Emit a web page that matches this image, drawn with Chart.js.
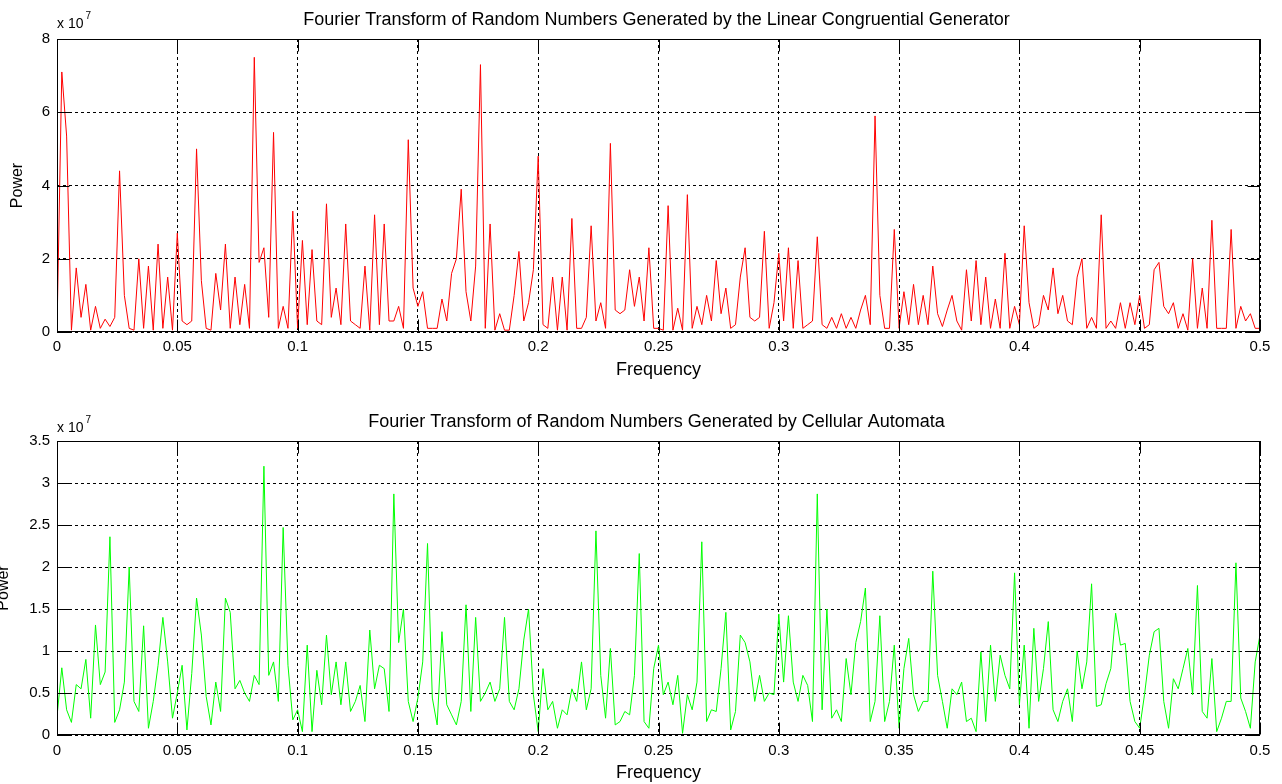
<!DOCTYPE html>
<html lang="en">
<head>
<meta charset="UTF-8">
<title>Fourier Transform of Random Numbers</title>
<script src="https://cdn.jsdelivr.net/npm/chart.js"></script>
<style>
    body {
        margin: 0;
        background: #fff;
    }
    .plot {
        position: absolute;
        left: 0;
        width: 1282px;
        height: 392px;
    }
    #topPlot { top: 0; }
    #bottomPlot { top: 392px; }
</style>
</head>
<body>

<div class="plot" id="topPlot"><canvas id="lcgChart"></canvas></div>
<div class="plot" id="bottomPlot"><canvas id="caChart"></canvas></div>

<script>
// frequency bins go from 0 to 0.5 in steps of 0.002, power in units of 1e7
const freqStep = 0.002;

const lcgPower = [
    0.05, 7.1, 5.35, 0.05, 1.75, 0.4, 1.3, 0.05, 0.7, 0.1,
    0.35, 0.15, 0.4, 4.4, 1.0, 0.1, 0.05, 2.0, 0.1, 1.8,
    0.05, 2.4, 0.1, 1.5, 0.05, 2.7, 0.3, 0.2, 0.3, 5.0,
    1.4, 0.1, 0.05, 1.6, 0.6, 2.4, 0.1, 1.5, 0.2, 1.3,
    0.1, 7.5, 1.9, 2.3, 0.4, 5.45, 0.1, 0.7, 0.1, 3.3,
    0.1, 2.5, 0.2, 2.25, 0.3, 0.2, 3.5, 0.4, 1.2, 0.2,
    2.95, 0.3, 0.2, 0.1, 1.8, 0.05, 3.2, 0.2, 2.95, 0.3,
    0.3, 0.7, 0.1, 5.25, 1.2, 0.7, 1.1, 0.1, 0.1, 0.1,
    0.9, 0.3, 1.6, 2.0, 3.9, 1.1, 0.3, 1.8, 7.3, 0.1,
    2.95, 0.05, 0.5, 0.05, 0.05, 1.0, 2.2, 0.3, 0.8, 1.7,
    4.8, 0.2, 0.1, 1.5, 0.05, 1.5, 0.05, 3.1, 0.1, 0.1,
    0.4, 2.9, 0.3, 0.8, 0.1, 5.15, 0.6, 0.5, 0.6, 1.7,
    0.7, 1.5, 0.3, 2.3, 0.1, 0.1, 0.05, 3.45, 0.05, 0.65,
    0.05, 3.75, 0.1, 0.7, 0.2, 1.0, 0.3, 1.95, 0.5, 1.2,
    0.1, 0.2, 1.5, 2.3, 0.4, 0.3, 0.4, 2.75, 0.1, 0.8,
    2.15, 0.3, 2.3, 0.1, 1.95, 0.1, 0.2, 0.3, 2.6, 0.2,
    0.1, 0.4, 0.1, 0.5, 0.1, 0.4, 0.1, 0.6, 1.0, 0.2,
    5.9, 1.0, 0.1, 0.1, 2.8, 0.1, 1.1, 0.2, 1.3, 0.2,
    1.0, 0.2, 1.8, 0.5, 0.15, 0.6, 1.0, 0.3, 0.05, 1.7,
    0.3, 1.95, 0.2, 1.5, 0.1, 0.9, 0.1, 2.15, 0.1, 0.7,
    0.2, 2.9, 0.8, 0.1, 0.2, 1.0, 0.6, 1.75, 0.5, 1.0,
    0.3, 0.2, 1.5, 2.0, 0.1, 0.4, 0.1, 3.2, 0.1, 0.3,
    0.1, 0.8, 0.1, 0.8, 0.2, 1.0, 0.1, 0.2, 1.7, 1.9,
    0.7, 0.5, 0.8, 0.1, 0.5, 0.05, 2.0, 0.1, 1.2, 0.1,
    3.05, 0.1, 0.1, 0.1, 2.8, 0.1, 0.7, 0.3, 0.5, 0.1,
    0.1
];

const caPower = [
    0.22, 0.8, 0.3, 0.15, 0.6, 0.55, 0.9, 0.2, 1.31, 0.6,
    0.75, 2.36, 0.15, 0.3, 0.63, 2.0, 0.4, 0.28, 1.3, 0.08,
    0.4, 0.83, 1.4, 0.87, 0.2, 0.5, 0.83, 0.06, 0.73, 1.63,
    1.19, 0.46, 0.12, 0.63, 0.28, 1.63, 1.46, 0.55, 0.65, 0.5,
    0.4, 0.71, 0.6, 3.2, 0.71, 0.87, 0.4, 2.47, 0.83, 0.18,
    0.3, 0.04, 1.07, 0.04, 0.77, 0.36, 1.19, 0.48, 0.87, 0.36,
    0.87, 0.28, 0.4, 0.59, 0.16, 1.25, 0.55, 0.83, 0.79, 0.28,
    2.87, 1.1, 1.5, 0.4, 0.16, 0.44, 0.87, 2.28, 0.44, 0.12,
    1.23, 0.36, 0.24, 0.12, 0.4, 1.55, 0.28, 1.4, 0.4, 0.5,
    0.63, 0.4, 0.55, 1.4, 0.4, 0.3, 0.55, 1.13, 1.5, 0.48,
    0.04, 0.79, 0.3, 0.4, 0.08, 0.3, 0.24, 0.55, 0.4, 0.87,
    0.3, 0.55, 2.43, 0.71, 0.2, 1.03, 0.12, 0.16, 0.28, 0.24,
    0.71, 2.16, 0.16, 0.08, 0.79, 1.07, 0.48, 0.63, 0.36, 0.71,
    0.02, 0.48, 0.3, 0.63, 2.3, 0.16, 0.3, 0.28, 0.79, 1.46,
    0.06, 0.28, 1.19, 1.1, 0.87, 0.4, 0.71, 0.4, 0.5, 0.48,
    1.44, 0.63, 1.42, 0.63, 0.4, 0.71, 0.59, 0.16, 2.87, 0.3,
    1.5, 0.2, 0.3, 0.16, 0.91, 0.48, 1.1, 1.35, 1.75, 0.16,
    0.4, 1.42, 0.16, 0.4, 1.07, 0.08, 0.79, 1.15, 0.48, 0.28,
    0.4, 0.4, 1.95, 0.71, 0.4, 0.08, 0.55, 0.48, 0.63, 0.16,
    0.2, 0.04, 0.99, 0.16, 1.07, 0.4, 0.95, 0.71, 0.55, 1.93,
    0.36, 1.07, 0.08, 1.27, 0.4, 0.79, 1.35, 0.3, 0.16, 0.4,
    0.55, 0.16, 1.0, 0.55, 0.87, 1.8, 0.34, 0.36, 0.61, 0.79,
    1.45, 1.07, 1.09, 0.4, 0.16, 0.08, 0.48, 0.95, 1.23, 1.27,
    0.4, 0.08, 0.67, 0.55, 0.79, 1.03, 0.48, 1.78, 0.28, 0.2,
    0.91, 0.04, 0.2, 0.4, 0.4, 2.05, 0.44, 0.28, 0.08, 0.87,
    1.19
];

const freqTickLabels = ['0', '0.05', '0.1', '0.15', '0.2', '0.25', '0.3', '0.35', '0.4', '0.45', '0.5'];
const lcgTickLabels = ['0', '2', '4', '6', '8'];
const caTickLabels = ['0', '0.5', '1', '1.5', '2', '2.5', '3', '3.5'];

const fontFamily = "'Liberation Sans', Arial, sans-serif";

function toPoints(values) {
    return values.map((v, i) => ({ x: +(i * freqStep).toFixed(3), y: v }));
}

// MATLAB style box, inward ticks, title and the "x 10^7" multiplier
const matlabAxes = {
    id: 'matlabAxes',
    afterDraw(chart, args, opts) {
        const ctx = chart.ctx;
        const area = chart.chartArea;
        const xs = chart.scales.x;
        const ys = chart.scales.y;
        const tickLen = 12;
        const l = Math.round(area.left) + 0.5;
        const r = Math.round(area.right) - 0.5;
        const t = Math.round(area.top) + 0.5;
        const b = Math.round(area.bottom) - 0.5;

        ctx.save();
        ctx.strokeStyle = '#000';
        ctx.lineWidth = 1;
        ctx.strokeRect(l, t, r - l, b - t);
        ctx.beginPath();
        xs.ticks.forEach(tk => {
            const px = Math.round(xs.getPixelForValue(tk.value)) + 0.5;
            ctx.moveTo(px, b); ctx.lineTo(px, b - tickLen);
            ctx.moveTo(px, t); ctx.lineTo(px, t + tickLen);
        });
        ys.ticks.forEach(tk => {
            const py = Math.round(ys.getPixelForValue(tk.value)) + 0.5;
            ctx.moveTo(l, py); ctx.lineTo(l + tickLen, py);
            ctx.moveTo(r, py); ctx.lineTo(r - tickLen, py);
        });
        ctx.stroke();

        ctx.fillStyle = '#000';
        ctx.textAlign = 'center';
        ctx.textBaseline = 'alphabetic';
        ctx.font = '18px ' + fontFamily;
        ctx.fillText(opts.title, (area.left + area.right) / 2 - 2, opts.titleY);

        ctx.textAlign = 'left';
        ctx.font = '14px ' + fontFamily;
        ctx.fillText('x 10', area.left, opts.expY);
        const w = ctx.measureText('x 10').width;
        ctx.font = '10px ' + fontFamily;
        ctx.fillText('7', area.left + w + 2, opts.expY - 9);
        ctx.restore();
    }
};

function makeChart(canvasId, values, color, yMax, yLabels, cfg) {
    return new Chart(document.getElementById(canvasId), {
        type: 'line',
        data: {
            datasets: [{
                data: toPoints(values),
                borderColor: color,
                borderWidth: 1,
                pointRadius: 0,
                tension: 0,
                fill: false
            }]
        },
        options: {
            responsive: true,
            maintainAspectRatio: false,
            animation: false,
            events: [],
            layout: { padding: { left: 0, right: 22, top: cfg.top, bottom: 0 } },
            plugins: {
                legend: { display: false },
                tooltip: { enabled: false },
                matlabAxes: { title: cfg.title, titleY: cfg.titleY, expY: cfg.expY }
            },
            scales: {
                x: {
                    type: 'linear',
                    min: 0,
                    max: 0.5,
                    afterFit: s => { s.height = cfg.xHeight; },
                    afterBuildTicks: s => {
                        s.ticks = freqTickLabels.map(lb => ({ value: parseFloat(lb) }));
                    },
                    ticks: {
                        color: '#000',
                        font: { family: fontFamily, size: 15 },
                        padding: cfg.xTickPad,
                        maxRotation: 0,
                        autoSkip: false,
                        callback: (v, i) => freqTickLabels[i]
                    },
                    grid: { color: '#000', lineWidth: 1, drawTicks: false },
                    border: { display: false, dash: [3, 3] },
                    title: {
                        display: true,
                        text: 'Frequency',
                        color: '#000',
                        font: { family: fontFamily, size: 18 },
                        padding: { top: 0, bottom: cfg.xTitlePad }
                    }
                },
                y: {
                    type: 'linear',
                    min: 0,
                    max: yMax,
                    afterFit: s => { s.width = 57; },
                    afterBuildTicks: s => {
                        s.ticks = yLabels.map(lb => ({ value: parseFloat(lb) }));
                    },
                    ticks: {
                        color: '#000',
                        font: { family: fontFamily, size: 15 },
                        padding: 7,
                        autoSkip: false,
                        callback: (v, i) => yLabels[i]
                    },
                    grid: { color: '#000', lineWidth: 1, drawTicks: false },
                    border: { display: false, dash: [3, 3] },
                    title: {
                        display: true,
                        text: 'Power',
                        color: '#000',
                        font: { family: fontFamily, size: 16 },
                        padding: { top: cfg.yTitlePad, bottom: 0 }
                    }
                }
            }
        },
        plugins: [matlabAxes]
    });
}

makeChart('lcgChart', lcgPower, '#ff0000', 8, lcgTickLabels, {
    top: 39, xHeight: 60, xTickPad: 6, xTitlePad: 11,
    yTitlePad: 8, title: 'Fourier Transform of Random Numbers Generated by the Linear Congruential Generator',
    titleY: 25, expY: 28
});

makeChart('caChart', caPower, '#00ff00', 3.5, caTickLabels, {
    top: 49, xHeight: 49, xTickPad: 7, xTitlePad: 0,
    yTitlePad: -6, title: 'Fourier Transform of Random Numbers Generated by Cellular Automata',
    titleY: 35, expY: 40
});
</script>

</body>
</html>
